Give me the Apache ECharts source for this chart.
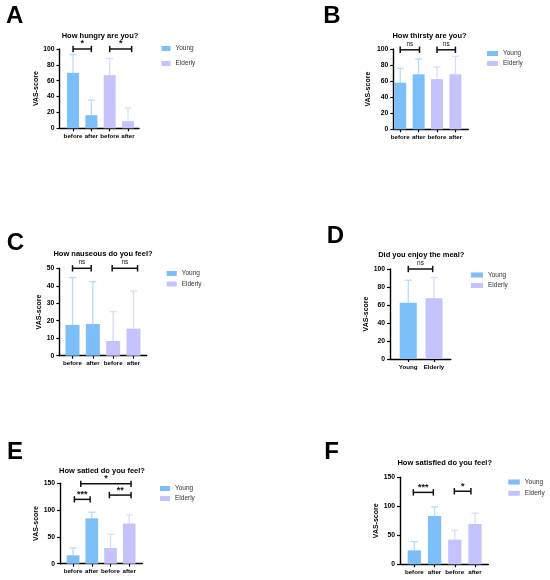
<!DOCTYPE html>
<html>
<head>
<meta charset="utf-8">
<script src="https://cdn.jsdelivr.net/npm/echarts@6/dist/echarts.min.js"></script>
<style>
html,body{margin:0;padding:0;background:#fff;}
#main{width:550px;height:580px;}
</style>
</head>
<body>
<div id="main"></div>
<script>
// categories
var catsPrePost = ['before', 'after', 'before', 'after'];
var catsGroup   = ['Young', 'Elderly'];
var groupPrePost = [0, 0, 1, 1];   // 0 = Young, 1 = Elderly
var groupGroup   = [0, 1];

// A  How hungry are you?
var hungryMean  = [70, 16.5, 67, 9];
var hungryUpper = [93, 35.5, 88, 25.5];
var hungrySig   = [[0, 1, 100], [2, 3.2, 100]];
var hungrySigText = ['*', '*'];

// B  How thirsty are you?
var thirstyMean  = [58, 68.5, 62.5, 68.5];
var thirstyUpper = [76, 87.5, 77.5, 91];
var thirstySig   = [[0, 1.05, 99], [2, 3, 99]];
var thirstySigText = ['ns', 'ns'];

// C  How nauseous do you feel?
var nauseousMean  = [17.6, 18.1, 8.4, 15.5];
var nauseousUpper = [44.7, 42.4, 25.2, 37];
var nauseousSig   = [[0, 0.92, 50], [1.95, 3.2, 50]];
var nauseousSigText = ['ns', 'ns'];

// D  Did you enjoy the meal?
var enjoyMean  = [62.5, 67.5];
var enjoyUpper = [87.5, 90.5];
var enjoySig   = [[0, 0.95, 100]];
var enjoySigText = ['ns'];

// E  How satied do you feel?
var satiedMean  = [15.6, 84.6, 29.2, 75];
var satiedUpper = [29.5, 96, 55, 91];
var satiedSig   = [[0.07, 0.91, 120], [1.94, 3.1, 128], [0.41, 3.1, 149]];
var satiedSigText = ['***', '**', '*'];

// F  How satisfied do you feel?
var satisfiedMean  = [24, 83.3, 42.5, 69.5];
var satisfiedUpper = [39, 99, 58.5, 88];
var satisfiedSig   = [[-0.05, 0.94, 124], [1.98, 2.8, 126]];
var satisfiedSigText = ['***', '*'];

var FONT = '"Liberation Sans", Arial, sans-serif';
var BAR_COLOR = ['#7bbef8', '#c5c3fc'];
var ERR_COLOR = ['#b5dafb', '#dcdbfd'];
var SERIES_NAME = ['Young', 'Elderly'];

var panels = [
	{letter:'A', lx:14.7, ly:16, title:'How hungry are you?', tx:100, ty:36,
	 cats:catsPrePost, group:groupPrePost, mean:hungryMean, upper:hungryUpper, sig:hungrySig, sigText:hungrySigText,
	 grid:{left:59.5, top:49, width:79.5, height:79.3}, xmin:-0.74, xmax:3.6, ymax:100, yint:20, nameGap:15, barWidth:12,
	 legend:{left:161.5, top:45, itemGap:8, iw:9}},
	{letter:'B', lx:332, ly:16, title:'How thirsty are you?', tx:429.5, ty:36,
	 cats:catsPrePost, group:groupPrePost, mean:thirstyMean, upper:thirstyUpper, sig:thirstySig, sigText:thirstySigText,
	 grid:{left:393.3, top:49, width:75, height:80.3}, xmin:-0.375, xmax:3.7, ymax:100, yint:20, nameGap:22, barWidth:12,
	 legend:{left:487, top:50, itemGap:3, iw:11}},
	{letter:'C', lx:15.3, ly:243, title:'How nauseous do you feel?', tx:103, ty:254.3,
	 cats:catsPrePost, group:groupPrePost, mean:nauseousMean, upper:nauseousUpper, sig:nauseousSig, sigText:nauseousSigText,
	 grid:{left:59.3, top:268.3, width:87.4, height:87.4}, xmin:-0.65, xmax:3.65, ymax:50, yint:10, nameGap:14, barWidth:14,
	 legend:{left:166.7, top:270, itemGap:3.5, iw:10}},
	{letter:'D', lx:335.5, ly:236.5, title:'Did you enjoy the meal?', tx:421.3, ty:255,
	 cats:catsGroup, group:groupGroup, mean:enjoyMean, upper:enjoyUpper, sig:enjoySig, sigText:enjoySigText,
	 grid:{left:390, top:269, width:60.7, height:90}, xmin:-0.71, xmax:1.65, ymax:100, yint:20, nameGap:17, barWidth:17,
	 legend:{left:471, top:271.5, itemGap:3.5, iw:12}},
	{letter:'E', lx:15, ly:452, title:'How satied do you feel?', tx:102, ty:471,
	 cats:catsPrePost, group:groupPrePost, mean:satiedMean, upper:satiedUpper, sig:satiedSig, sigText:satiedSigText,
	 grid:{left:60, top:483.3, width:82.3, height:80.4}, xmin:-0.7, xmax:3.7, ymax:150, yint:50, nameGap:16, barWidth:12.7,
	 legend:{left:160, top:485, itemGap:3, iw:10}},
	{letter:'F', lx:331.5, ly:452, title:'How satisfied do you feel?', tx:444.7, ty:463.3,
	 cats:catsPrePost, group:groupPrePost, mean:satisfiedMean, upper:satisfiedUpper, sig:satisfiedSig, sigText:satisfiedSigText,
	 grid:{left:400, top:477.3, width:88.3, height:87}, xmin:-0.71, xmax:3.66, ymax:150, yint:50, nameGap:17, barWidth:13.3,
	 legend:{left:508.3, top:478.5, itemGap:4.3, iw:11.5}}
];

var option = {
	animation: false,
	grid: [], xAxis: [], yAxis: [], series: [], legend: [], graphic: []
};

function ticksOf(cats){
	var t = [];
	for(var i=0;i<cats.length;i++){ t.push(i); }
	return t;
}

// error bar (upper only, with cap)
function errorRender(params, api){
	var x = api.value(0), m = api.value(1), u = api.value(2), g = api.value(3);
	var p0 = api.coord([x, m]);
	var p1 = api.coord([x, u]);
	var c = ERR_COLOR[g];
	return {type:'group', children:[
		{type:'line', shape:{x1:p0[0], y1:p0[1], x2:p1[0], y2:p1[1]}, style:{stroke:c, lineWidth:1.3}},
		{type:'line', shape:{x1:p1[0]-3.5, y1:p1[1], x2:p1[0]+3.5, y2:p1[1]}, style:{stroke:c, lineWidth:1.3}}
	]};
}

// significance bracket |---| with text above
function makeBracketRender(texts){
	return function(params, api){
		var a = api.coord([api.value(0), api.value(2)]);
		var b = api.coord([api.value(1), api.value(2)]);
		var txt = texts[params.dataIndex];
		var isNs = txt == 'ns';
		return {type:'group', children:[
			{type:'line', shape:{x1:a[0], y1:a[1], x2:b[0], y2:b[1]}, style:{stroke:'#111', lineWidth:1.5}},
			{type:'line', shape:{x1:a[0], y1:a[1]-3.2, x2:a[0], y2:a[1]+3.2}, style:{stroke:'#111', lineWidth:1.5}},
			{type:'line', shape:{x1:b[0], y1:b[1]-3.2, x2:b[0], y2:b[1]+3.2}, style:{stroke:'#111', lineWidth:1.5}},
			{type:'text', x:(a[0]+b[0])/2, y:a[1] - (isNs ? 2.5 : 0.5),
			 style:{text:txt, align:'center', verticalAlign:'bottom', fill:'#111',
			        font:(isNs ? 'normal 6.5px ' : 'bold 9px ') + FONT}}
		]};
	};
}

function addPanel(i, p){
	option.grid.push({left:p.grid.left, top:p.grid.top, width:p.grid.width, height:p.grid.height, containLabel:false});
	var cats = p.cats;
	option.xAxis.push({
		type:'value', gridIndex:i, min:p.xmin, max:p.xmax,
		splitLine:{show:false},
		axisLine:{show:true, onZero:false, lineStyle:{color:'#000', width:1.4}},
		axisTick:{show:true, length:3, customValues:ticksOf(cats), lineStyle:{color:'#000', width:1.2}},
		axisLabel:{show:true, customValues:ticksOf(cats), margin:5, color:'#000', hideOverlap:false,
			fontFamily:FONT, fontWeight:'bold', fontSize:6.2,
			formatter:function(v){ return cats[Math.round(v)]; }}
	});
	option.yAxis.push({
		type:'value', gridIndex:i, min:0, max:p.ymax, interval:p.yint,
		splitLine:{show:false},
		axisLine:{show:true, onZero:false, lineStyle:{color:'#000', width:1.4}},
		axisTick:{show:true, length:3, lineStyle:{color:'#000', width:1.2}},
		axisLabel:{margin:5, color:'#000', fontFamily:FONT, fontWeight:'bold', fontSize:6.8},
		name:'VAS-score', nameLocation:'middle', nameGap:p.nameGap,
		nameTextStyle:{color:'#000', fontFamily:FONT, fontWeight:'bold', fontSize:7}
	});
	// bars, one series per group so the legend picks them up
	for(var g=0; g<2; g++){
		var d = [];
		for(var k=0;k<p.mean.length;k++){
			if(p.group[k] == g){ d.push([k, p.mean[k]]); }
		}
		option.series.push({
			name:SERIES_NAME[g], type:'bar', xAxisIndex:i, yAxisIndex:i,
			barWidth:p.barWidth, barGap:'-100%', silent:true,
			itemStyle:{color:BAR_COLOR[g]}, data:d
		});
	}
	var ed = [];
	for(var k=0;k<p.mean.length;k++){ ed.push([k, p.mean[k], p.upper[k], p.group[k]]); }
	option.series.push({
		name:'err'+p.letter, type:'custom', xAxisIndex:i, yAxisIndex:i, silent:true,
		encode:{x:0, y:2}, renderItem:errorRender, data:ed, z:1
	});
	option.series.push({
		name:'sig'+p.letter, type:'custom', xAxisIndex:i, yAxisIndex:i, silent:true, clip:false,
		encode:{x:[0,1], y:2}, renderItem:makeBracketRender(p.sigText), data:p.sig, z:5
	});
	option.legend.push({
		data:['Young','Elderly'], orient:'vertical', left:p.legend.left, top:p.legend.top, padding:0,
		itemGap:p.legend.itemGap, itemWidth:p.legend.iw, itemHeight:5, icon:'rect', selectedMode:false,
		textStyle:{color:'#333', fontFamily:FONT, fontSize:6.5}
	});
	option.graphic.push({type:'text', x:p.lx, y:p.ly,
		style:{text:p.letter, align:'center', verticalAlign:'middle', fill:'#000', font:'bold 24px ' + FONT}});
	option.graphic.push({type:'text', x:p.tx, y:p.ty,
		style:{text:p.title, align:'center', verticalAlign:'middle', fill:'#000', font:'bold 7.5px ' + FONT}});
}

for(var i=0;i<panels.length;i++){
	addPanel(i, panels[i]);
}

echarts.init(document.getElementById('main')).setOption(option);
</script>
</body>
</html>
